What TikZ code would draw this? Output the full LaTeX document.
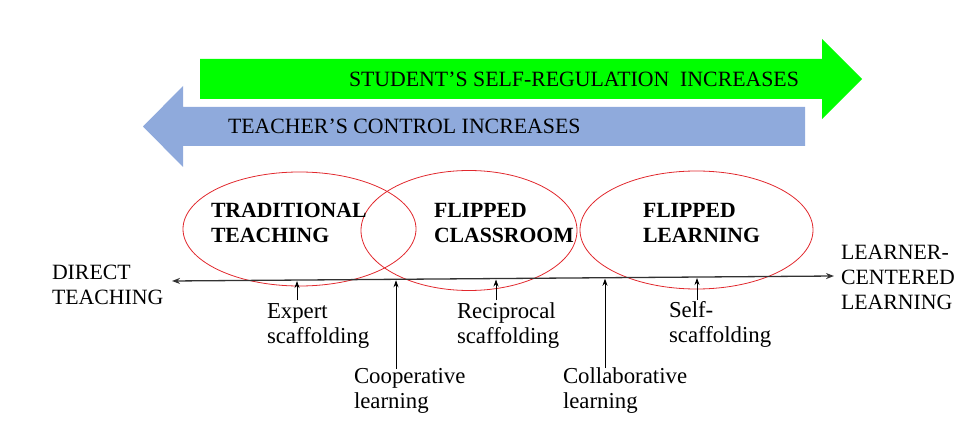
\documentclass[tikz,border=0pt]{standalone}
\usepackage{fontspec}
\setmainfont{Liberation Serif}
\usetikzlibrary{arrows.meta,calc,shapes.geometric}
\definecolor{arrgreen}{RGB}{0,255,0}
\definecolor{arrblue}{RGB}{143,170,220}
\definecolor{ellred}{RGB}{225,40,45}
\definecolor{axisgray}{RGB}{50,50,50}
\begin{document}
\begin{tikzpicture}[x=1pt,y=-1pt,
  every node/.style={inner sep=0pt,outer sep=0pt},
  lbl/.style={font=\fontsize{21.8}{25}\selectfont,align=left,anchor=base west},
  smlbl/.style={font=\fontsize{22.8}{25}\selectfont,align=left,anchor=base west},
  bolbl/.style={font=\fontsize{21.7}{25}\selectfont\bfseries,align=left,anchor=base west},
  ell/.style={ellipse,draw=ellred,line width=0.8pt},
  axisline/.style={draw=axisgray,line width=1.3pt,{Stealth[length=8pt,width=6pt]}-{Stealth[length=8pt,width=6pt]}},
  varrow/.style={draw=black,line width=0.8pt,-{Stealth[length=7pt,width=5pt]},shorten >=1pt}
]
\useasboundingbox (0,0) rectangle (979,438);

% big arrows
\fill[arrblue] (805,107) -- (183,107) -- (183,86) -- (143,126.5) -- (183,167) -- (183,146) -- (805,146) -- cycle;
\fill[arrgreen] (200,59) -- (822,59) -- (822,39) -- (862,79) -- (822,119) -- (822,99) -- (200,99) -- cycle;
\node[lbl] (student) at (349,87) {STUDENT’S SELF-REGULATION\ \ INCREASES};
\node[lbl] (teacher) at (228,134) {TEACHER’S CONTROL INCREASES};

% ellipses
\node[ell,minimum width=233pt,minimum height=114pt] (e1) at (299.5,229) {};
\node[ell,minimum width=216pt,minimum height=120pt] (e2) at (469,230.5) {};
\node[ell,minimum width=233pt,minimum height=118pt] (e3) at (696.5,230) {};
\node[bolbl] (t1) at (211,243) {TRADITIONAL\\TEACHING};
\node[bolbl] (t2) at (434,243) {FLIPPED\\CLASSROOM};
\node[bolbl] (t3) at (643,243) {FLIPPED\\LEARNING};

% axis
\coordinate (L) at (172,281);
\coordinate (R) at (834,276);
\draw[axisline] (L) -- (R);
\node[lbl] (direct) at (52,304) {DIRECT\\TEACHING};
\node[lbl] (learner) at (841,309) {LEARNER-\\CENTERED\\LEARNING};

% points on axis
\coordinate (p1) at ($(L)!0.1888!(R)$);
\coordinate (p2) at ($(L)!0.3384!(R)$);
\coordinate (p3) at ($(L)!0.4894!(R)$);
\coordinate (p4) at ($(L)!0.6541!(R)$);
\coordinate (p5) at ($(L)!0.7931!(R)$);
\coordinate (b1) at (297,300);
\coordinate (b2) at (396,369);
\coordinate (b3) at (496,300);
\coordinate (b4) at (605,368);
\coordinate (b5) at (697,300);
\draw[varrow] (b1) -- (b1 |- p1);
\draw[varrow] (b2) -- (b2 |- p2);
\draw[varrow] (b3) -- (b3 |- p3);
\draw[varrow] (b4) -- (b4 |- p4);
\draw[varrow] (b5) -- (b5 |- p5);

\node[smlbl] (expert) at (267,343) {Expert\\scaffolding};
\node[smlbl] (coop) at (354,408) {Cooperative\\learning};
\node[smlbl] (recip) at (457,343) {Reciprocal\\scaffolding};
\node[smlbl] (collab) at (563,408) {Collaborative\\learning};
\node[smlbl] (self) at (669,342) {Self-\\scaffolding};
\end{tikzpicture}
\end{document}
